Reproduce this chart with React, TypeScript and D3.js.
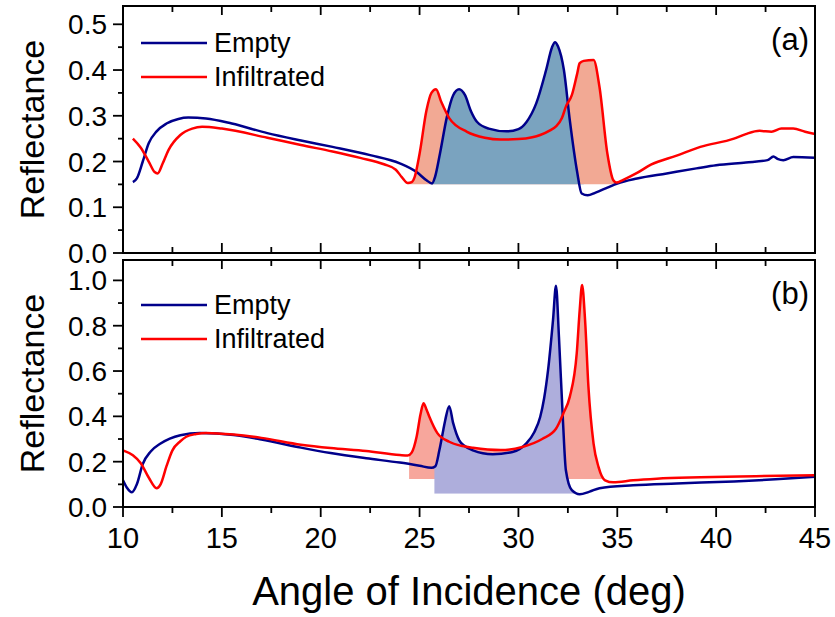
import React from "react";
import * as d3 from "d3";

type P = [number, number];

// ---------- data (angle deg, reflectance) ----------
const xTicksMajor = [10, 15, 20, 25, 30, 35, 40, 45];
const yTicksA = [0, 0.1, 0.2, 0.3, 0.4, 0.5];
const yTicksB = [0, 0.2, 0.4, 0.6, 0.8, 1.0];
const seriesNames = ["Empty", "Infiltrated"];
const panelLabels = ["(a)", "(b)"];

const aEmpty: P[] = [
  [10.5, 0.155], [10.7, 0.163], [11.0, 0.2], [11.3, 0.24], [11.7, 0.266], [12.2, 0.283],
  [12.8, 0.293], [13.3, 0.296], [14.2, 0.294], [15.5, 0.283], [17.3, 0.262], [19, 0.246],
  [20.6, 0.232], [22.5, 0.214], [24, 0.196], [24.85, 0.177], [25.35, 0.159], [25.63, 0.152],
  [25.78, 0.166], [26.03, 0.217], [26.38, 0.297], [26.7, 0.345], [27.0, 0.358], [27.3, 0.345],
  [27.6, 0.31], [27.9, 0.287], [28.5, 0.272], [29.4, 0.266], [30.0, 0.271], [30.4, 0.286],
  [30.9, 0.327], [31.4, 0.4], [31.7, 0.45], [31.85, 0.461], [32.0, 0.452], [32.3, 0.4],
  [32.6, 0.29], [32.96, 0.18], [33.2, 0.13], [33.5, 0.126], [33.9, 0.132], [34.5, 0.143],
  [35.0, 0.152], [36, 0.163], [37.5, 0.174], [39, 0.185], [40, 0.192], [41.5, 0.198],
  [42.6, 0.203], [42.9, 0.211], [43.1, 0.206], [43.4, 0.203], [43.9, 0.21], [45, 0.208],
];

const aInfil: P[] = [
  [10.5, 0.25], [10.9, 0.23], [11.3, 0.2], [11.6, 0.177], [11.75, 0.174], [12.0, 0.195],
  [12.3, 0.225], [12.9, 0.258], [13.5, 0.272], [14.0, 0.276], [15, 0.272], [17.3, 0.252],
  [19, 0.236], [20.6, 0.222], [22, 0.208], [23.2, 0.194], [23.8, 0.182], [24.1, 0.166],
  [24.4, 0.153], [24.6, 0.155], [24.75, 0.166], [25.0, 0.217], [25.35, 0.312], [25.6, 0.35],
  [25.83, 0.358], [26.1, 0.33], [26.5, 0.295], [27.4, 0.265], [28.3, 0.252], [29.1, 0.248],
  [30.0, 0.249], [30.7, 0.253], [31.1, 0.258], [31.6, 0.268], [31.9, 0.277], [32.2, 0.295],
  [32.4, 0.32], [32.7, 0.345], [32.96, 0.39], [33.1, 0.415], [33.3, 0.42], [33.8, 0.422],
  [34.1, 0.363], [34.5, 0.217], [34.8, 0.159], [34.95, 0.154], [35.3, 0.16], [36, 0.175],
  [36.7, 0.193], [38, 0.213], [39.2, 0.232], [40.9, 0.25], [41.5, 0.26], [42.2, 0.267],
  [42.8, 0.265], [43.3, 0.272], [43.9, 0.272], [44.5, 0.265], [45, 0.26],
];

const bEmpty: P[] = [
  [10, 0.118], [10.2, 0.085], [10.45, 0.065], [10.7, 0.1], [11.0, 0.19], [11.4, 0.245],
  [11.9, 0.28], [12.9, 0.317], [13.9, 0.327], [15.6, 0.318], [17, 0.298], [19, 0.262],
  [20.5, 0.238], [22.3, 0.215], [24, 0.196], [25, 0.182], [25.6, 0.173], [25.8, 0.18],
  [26.0, 0.25], [26.2, 0.34], [26.3, 0.384], [26.5, 0.445], [26.7, 0.37], [27.0, 0.295],
  [27.3, 0.268], [27.7, 0.25], [28.7, 0.233], [29.7, 0.243], [30.4, 0.281], [30.8, 0.33],
  [31.1, 0.397], [31.3, 0.48], [31.5, 0.605], [31.75, 0.826], [31.9, 0.976], [32.05, 0.75],
  [32.25, 0.384], [32.4, 0.162], [32.7, 0.074], [33.1, 0.056], [33.6, 0.068], [34.1, 0.083],
  [35.8, 0.096], [38, 0.104], [40.9, 0.113], [43, 0.122], [45, 0.133],
];

const bInfil: P[] = [
  [10, 0.25], [10.5, 0.228], [10.9, 0.193], [11.3, 0.13], [11.7, 0.083], [11.9, 0.1],
  [12.2, 0.18], [12.5, 0.25], [12.9, 0.29], [13.2, 0.31], [13.7, 0.322], [14.2, 0.327],
  [15.6, 0.32], [17, 0.305], [19, 0.275], [20.5, 0.26], [22.3, 0.247], [24, 0.229],
  [24.4, 0.227], [24.6, 0.24], [24.85, 0.31], [25.05, 0.41], [25.2, 0.458], [25.35, 0.43],
  [25.5, 0.397], [25.9, 0.326], [26.5, 0.288], [27.1, 0.27], [27.7, 0.261], [29.1, 0.251],
  [30.2, 0.265], [31.2, 0.3], [31.9, 0.345], [32.27, 0.413], [32.6, 0.487], [32.95, 0.679],
  [33.1, 0.87], [33.22, 0.98], [33.37, 0.826], [33.54, 0.531], [33.8, 0.28], [34.05, 0.177],
  [34.38, 0.118], [34.8, 0.109], [35.8, 0.118], [37, 0.125], [39.2, 0.131], [42, 0.136],
  [45, 0.14],
];

// fill spans: [start angle, end angle, baseline reflectance]
const aInfilFill = [24.4, 35.0, 0.15];
const aEmptyFill = [25.63, 33.3, 0.15];
const bInfilFill = [24.47, 35.0, 0.124];
const bEmptyFill = [25.75, 33.3, 0.058];

// ---------- layout ----------
const W = 835;
const H = 617;
const L = 123;
const R = 815;
const FONT = "'Liberation Sans', Arial, Helvetica, sans-serif";
const BLUE = "#00008B";
const RED = "#FF0000";

const x = d3.scaleLinear().domain([10, 45]).range([L, R]);
const xMinor = d3.range(10, 45.01, 2.5);

type PanelProps = {
  id: string;
  top: number;
  bottom: number;
  yMax: number;
  yTicks: number[];
  yMinorStep: number;
  fmt: (v: number) => string;
  empty: P[];
  infil: P[];
  emptyFill: number[];
  infilFill: number[];
  emptyFillColor: string;
  infilFillColor: string;
  label: string;
  legendDy: number;
  bottomOutward: boolean;
  showXLabels: boolean;
};

function Panel(p: PanelProps) {
  const y = d3.scaleLinear().domain([0, p.yMax]).range([p.bottom, p.top]);
  const line = d3
    .line<P>()
    .x((d) => x(d[0]))
    .y((d) => y(d[1]))
    .curve(d3.curveMonotoneX);
  const areaFor = (base: number) =>
    d3
      .area<P>()
      .x((d) => x(d[0]))
      .y0(y(base))
      .y1((d) => y(d[1]))
      .curve(d3.curveMonotoneX);
  const yMinor = d3.range(0, p.yMax + 1e-9, p.yMinorStep);
  const fills = [
    { key: "inf", data: p.infil, span: p.infilFill, color: p.infilFillColor },
    { key: "emp", data: p.empty, span: p.emptyFill, color: p.emptyFillColor },
  ];
  const legendY0 = p.top + p.legendDy;
  return (
    <g>
      <defs>
        {fills.map((f) => (
          <clipPath id={`${p.id}-${f.key}`} key={f.key}>
            <rect
              x={x(f.span[0])}
              y={p.top}
              width={x(f.span[1]) - x(f.span[0])}
              height={y(f.span[2]) - p.top}
            />
          </clipPath>
        ))}
      </defs>
      {fills.map((f) => (
        <path
          key={f.key}
          d={areaFor(f.span[2])(f.data) || ""}
          fill={f.color}
          stroke="none"
          clipPath={`url(#${p.id}-${f.key})`}
        />
      ))}
      <path d={line(p.empty) || ""} fill="none" stroke={BLUE} strokeWidth={2.5} />
      <path d={line(p.infil) || ""} fill="none" stroke={RED} strokeWidth={2.5} />

      {/* frame */}
      <rect
        x={L}
        y={p.top}
        width={R - L}
        height={p.bottom - p.top}
        fill="none"
        stroke="#000"
        strokeWidth={2}
      />

      {/* x ticks: top inward */}
      {xMinor.map((v) => {
        const major = Math.abs(v % 5) < 1e-9;
        const len = major ? 9 : 6;
        return (
          <line key={"t" + v} x1={x(v)} x2={x(v)} y1={p.top} y2={p.top + len} stroke="#000" strokeWidth={1.8} />
        );
      })}
      {/* x ticks: bottom */}
      {xMinor.map((v) => {
        const major = Math.abs(v % 5) < 1e-9;
        const len = major ? 10 : 6;
        const y2 = p.bottomOutward ? p.bottom + len : p.bottom - len;
        return <line key={"b" + v} x1={x(v)} x2={x(v)} y1={p.bottom} y2={y2} stroke="#000" strokeWidth={1.8} />;
      })}
      {/* y ticks outward */}
      {yMinor.map((v) => {
        const major = p.yTicks.some((t) => Math.abs(t - v) < 1e-9);
        return (
          <line
            key={"y" + v}
            x1={L}
            x2={L - (major ? 10 : 5)}
            y1={y(v)}
            y2={y(v)}
            stroke="#000"
            strokeWidth={1.8}
          />
        );
      })}
      {p.yTicks.map((v) => (
        <text
          key={"yl" + v}
          x={107}
          y={y(v)}
          dy="0.36em"
          textAnchor="end"
          fontSize={28}
          fontFamily={FONT}
        >
          {p.fmt(v)}
        </text>
      ))}
      {p.showXLabels &&
        xTicksMajor.map((v) => (
          <text key={"xl" + v} x={x(v)} y={548} textAnchor="middle" fontSize={29} fontFamily={FONT}>
            {v}
          </text>
        ))}

      {/* y title */}
      <text
        transform={`translate(44,${(p.top + p.bottom) / 2}) rotate(-90)`}
        textAnchor="middle"
        fontSize={34}
        fontFamily={FONT}
      >
        Reflectance
      </text>

      {/* legend */}
      {seriesNames.map((name, i) => {
        const ly = legendY0 + i * 34;
        return (
          <g key={name}>
            <line x1={141} x2={207} y1={ly} y2={ly} stroke={i === 0 ? BLUE : RED} strokeWidth={2.5} />
            <text x={214} y={ly} dy="0.35em" fontSize={27} fontFamily={FONT}>
              {name}
            </text>
          </g>
        );
      })}

      <text x={809} y={p.top + 44} textAnchor="end" fontSize={31} fontFamily={FONT}>
        {p.label}
      </text>
    </g>
  );
}

export default function App() {
  return (
    <svg
      width={W}
      height={H}
      viewBox={`0 0 ${W} ${H}`}
      style={{ position: "absolute", left: 0, top: 0, background: "#fff" }}
    >
      <rect width={W} height={H} fill="#fff" />
      <Panel
        id="pa"
        top={6}
        bottom={253}
        yMax={0.54}
        yTicks={yTicksA}
        yMinorStep={0.05}
        fmt={(v) => v.toFixed(1)}
        empty={aEmpty}
        infil={aInfil}
        emptyFill={aEmptyFill}
        infilFill={aInfilFill}
        emptyFillColor="#7AA3BF"
        infilFillColor="#F2A994"
        label={panelLabels[0]}
        legendDy={37}
        bottomOutward={false}
        showXLabels={false}
      />
      <Panel
        id="pb"
        top={260}
        bottom={507}
        yMax={1.09}
        yTicks={yTicksB}
        yMinorStep={0.1}
        fmt={(v) => v.toFixed(1)}
        empty={bEmpty}
        infil={bInfil}
        emptyFill={bEmptyFill}
        infilFill={bInfilFill}
        emptyFillColor="#AEAEDC"
        infilFillColor="#F7A69C"
        label={panelLabels[1]}
        legendDy={45}
        bottomOutward={true}
        showXLabels={true}
      />
      <text x={469} y={605} textAnchor="middle" fontSize={40} fontFamily={FONT}>
        Angle of Incidence (deg)
      </text>
    </svg>
  );
}
